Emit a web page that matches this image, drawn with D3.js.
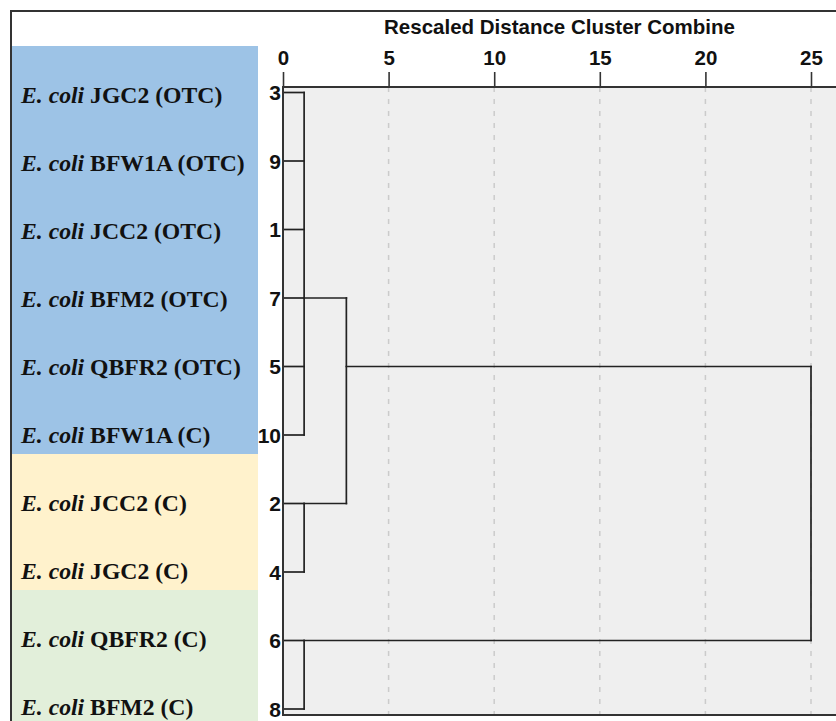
<!DOCTYPE html>
<html>
<head>
<meta charset="utf-8">
<script src="https://cdn.jsdelivr.net/npm/d3@7"></script>
<style>
  body { margin: 0; background: #fff; }
  svg { display: block; }
</style>
</head>
<body>
<div id="chart"></div>
<script>
// leaf order as drawn, top to bottom
const leafIds = ["3", "9", "1", "7", "5", "10", "2", "4", "6", "8"];
const strains = ["JGC2 (OTC)", "BFW1A (OTC)", "JCC2 (OTC)", "BFM2 (OTC)", "QBFR2 (OTC)",
                 "BFW1A (C)", "JCC2 (C)", "JGC2 (C)", "QBFR2 (C)", "BFM2 (C)"];
const groups = ["otc", "otc", "otc", "otc", "otc", "otc", "cj", "cj", "cq", "cq"];

// merges: rescaled distance where children join, and the leaf row the joined line leaves from
const merges = [
  { id: "A", children: ["3", "9", "1", "7", "5", "10"], dist: 1, anchor: "7" },
  { id: "B", children: ["2", "4"], dist: 1, anchor: "2" },
  { id: "C", children: ["6", "8"], dist: 1, anchor: "6" },
  { id: "AB", children: ["A", "B"], dist: 3, anchor: "5" },
  { id: "root", children: ["AB", "C"], dist: 25, anchor: "5" }
];

const axisTicks = [0, 5, 10, 15, 20, 25];
const axisTitle = "Rescaled Distance Cluster Combine";

const width = 836;
const height = 721;

const groupColor = { otc: "#9dc3e6", cj: "#fff2cc", cq: "#e2efda" };

const svg = d3.select("#chart")
  .append("svg")
  .attr("width", width)
  .attr("height", height);

const plotTop = 87;
const plotBottom = 715;

const x = d3.scaleLinear().domain([0, 25]).range([283, 811]);
const y = d3.scalePoint().domain(leafIds).range([92.5, 709]);
const band = d3.scaleBand().domain(leafIds).range([46, 726]);

// coloured label panel
svg.append("g")
  .selectAll("rect")
  .data(leafIds)
  .enter().append("rect")
  .attr("x", 12)
  .attr("y", d => band(d))
  .attr("width", 246)
  .attr("height", band.bandwidth() + 0.5)
  .attr("fill", (d, i) => groupColor[groups[i]]);

const labels = svg.append("g")
  .selectAll("text")
  .data(leafIds)
  .enter().append("text")
  .attr("x", 21)
  .attr("y", d => band(d) + 57)
  .style("font-family", "'Liberation Serif', 'Times New Roman', serif")
  .style("font-size", "23.7px")
  .style("font-weight", "bold")
  .attr("fill", "#111");

labels.append("tspan")
  .style("font-style", "italic")
  .text("E. coli");
labels.append("tspan")
  .text((d, i) => " " + strains[i]);

// plot area
svg.append("rect")
  .attr("x", x(0))
  .attr("y", plotTop)
  .attr("width", width - x(0))
  .attr("height", plotBottom - plotTop)
  .attr("fill", "#efefef");

// dashed grid
svg.append("g")
  .selectAll("line")
  .data(axisTicks.filter(d => d > 0))
  .enter().append("line")
  .attr("x1", d => x(d))
  .attr("x2", d => x(d))
  .attr("y1", plotTop)
  .attr("y2", plotBottom)
  .attr("stroke", "#cbcbcb")
  .attr("stroke-width", 1.5)
  .attr("stroke-dasharray", "5,7");

// axis on top
const axis = svg.append("g")
  .attr("transform", `translate(0,${plotTop})`)
  .call(d3.axisTop(x).tickValues(axisTicks).tickSize(15).tickPadding(7));
axis.select(".domain").remove();
axis.selectAll(".tick line").attr("stroke", "#333").attr("stroke-width", 1.6);
axis.selectAll(".tick text")
  .attr("fill", "#111")
  .style("font-family", "'Liberation Sans', Arial, sans-serif")
  .style("font-size", "20.5px")
  .style("font-weight", "bold");

svg.append("text")
  .attr("x", (x(0) + width) / 2)
  .attr("y", 34)
  .attr("text-anchor", "middle")
  .attr("fill", "#111")
  .style("font-family", "'Liberation Sans', Arial, sans-serif")
  .style("font-size", "20.5px")
  .style("font-weight", "bold")
  .text(axisTitle);

// leaf numbers
svg.append("g")
  .selectAll("text")
  .data(leafIds)
  .enter().append("text")
  .attr("x", 281)
  .attr("y", d => y(d))
  .attr("dy", "0.36em")
  .attr("text-anchor", "end")
  .attr("fill", "#111")
  .style("font-family", "'Liberation Sans', Arial, sans-serif")
  .style("font-size", "21px")
  .style("font-weight", "bold")
  .text(d => d);

// dendrogram
const nodes = {};
leafIds.forEach(id => { nodes[id] = { dist: 0, ay: y(id) }; });
merges.forEach(m => { nodes[m.id] = { dist: m.dist, ay: y(m.anchor) }; });

const segs = [];
merges.forEach(m => {
  const ys = m.children.map(c => nodes[c].ay);
  segs.push([x(m.dist), d3.min(ys), x(m.dist), d3.max(ys)]);
  m.children.forEach(c => {
    segs.push([x(nodes[c].dist), nodes[c].ay, x(m.dist), nodes[c].ay]);
  });
});

svg.append("g")
  .selectAll("line")
  .data(segs)
  .enter().append("line")
  .attr("x1", d => d[0])
  .attr("y1", d => d[1])
  .attr("x2", d => d[2])
  .attr("y2", d => d[3])
  .attr("stroke", "#222")
  .attr("stroke-width", 1.7)
  .attr("stroke-linecap", "square");

// plot borders
svg.append("path")
  .attr("d", `M${width},${plotTop}H${x(0)}V${plotBottom}H${width}`)
  .attr("fill", "none")
  .attr("stroke", "#333")
  .attr("stroke-width", 2);

// outer frame
svg.append("path")
  .attr("d", `M11,${height}V11H${width}`)
  .attr("fill", "none")
  .attr("stroke", "#333")
  .attr("stroke-width", 2);
</script>
</body>
</html>
